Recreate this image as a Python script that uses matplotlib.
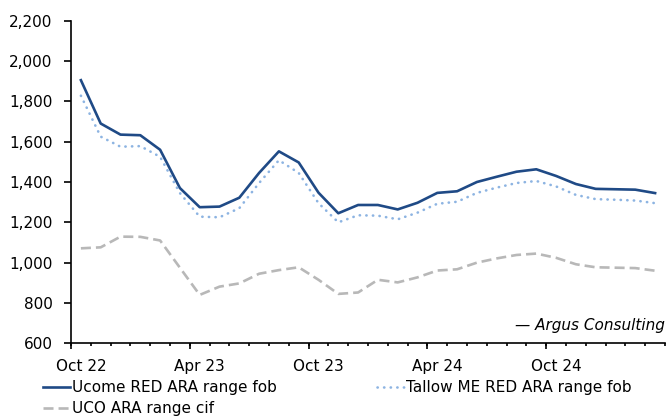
import matplotlib
matplotlib.use("Agg")
import matplotlib.pyplot as plt
from matplotlib.lines import Line2D

# ---- data ----
months = ["Oct 22", "Nov 22", "Dec 22", "Jan 23", "Feb 23", "Mar 23",
          "Apr 23", "May 23", "Jun 23", "Jul 23", "Aug 23", "Sep 23",
          "Oct 23", "Nov 23", "Dec 23", "Jan 24", "Feb 24", "Mar 24",
          "Apr 24", "May 24", "Jun 24", "Jul 24", "Aug 24", "Sep 24",
          "Oct 24", "Nov 24", "Dec 24", "Jan 25", "Feb 25", "Mar 25"]
ucome = [1905, 1690, 1635, 1632, 1560, 1370, 1275, 1278, 1322, 1445,
         1552, 1497, 1347, 1245, 1286, 1286, 1264, 1297, 1346, 1354,
         1400, 1426, 1451, 1463, 1430, 1390, 1366, 1364, 1362, 1345]
tallow = [1828, 1625, 1575, 1578, 1525, 1345, 1228, 1225, 1270, 1395,
          1508, 1445, 1295, 1200, 1235, 1233, 1215, 1248, 1292, 1302,
          1346, 1372, 1395, 1405, 1378, 1336, 1315, 1312, 1308, 1295]
uco = [1071, 1076, 1129, 1128, 1110, 975, 840, 881, 897, 945,
       963, 977, 915, 845, 852, 915, 902, 927, 961, 967,
       1000, 1021, 1038, 1045, 1024, 992, 977, 975, 973, 960]
tick_labels = ["Oct 22", "Apr 23", "Oct 23", "Apr 24", "Oct 24"]
y_ticks = [600, 800, 1000, 1200, 1400, 1600, 1800, 2000, 2200]

names = ["Ucome RED ARA range fob", "Tallow ME RED ARA range fob", "UCO ARA range cif"]
c_ucome = "#1F4A86"
c_tallow = "#8DB4E2"
c_uco = "#B8B8B8"

plt.rcParams['font.family'] = ['DejaVu Sans']
FS = 11

W, H = 666, 419
fig = plt.figure(figsize=(W / 100, H / 100), dpi=100)
left, right = 71, 665
top, bottom = 20.7, 343.3
ax = fig.add_axes([left / W, 1 - bottom / H, (right - left) / W, (bottom - top) / H])

dot_style = (0, (0.1, 2.4))
dash_style = (0, (3.8, 1.9))

x = list(range(len(months)))
ax.plot(x, ucome, color=c_ucome, lw=1.9, solid_joinstyle='round')
ax.plot(x, tallow, color=c_tallow, lw=1.9, linestyle=dot_style,
        dash_capstyle='round')
ax.plot(x, uco, color=c_uco, lw=1.9, linestyle=dash_style)

ax.set_xlim(-0.5, len(months) - 0.5)
ax.set_ylim(600, 2200)
ax.set_yticks(y_ticks)
ax.set_yticklabels([f"{v:,}" for v in y_ticks], fontsize=FS)
ax.tick_params(axis='y', length=4.8, width=1.2, pad=8.5, direction='out')

# category-centred labels, tick marks at category boundaries
label_pos = [months.index(t) for t in tick_labels]
ax.set_xticks(label_pos)
ax.set_xticklabels(tick_labels, fontsize=FS)
ax.tick_params(axis='x', which='major', length=0, pad=11)
ax.set_xticks([i - 0.5 for i in range(len(months) + 1)], minor=True)
ax.tick_params(axis='x', which='minor', length=2.5, width=1.2, direction='out')
sec = ax.secondary_xaxis('bottom')
sec.set_xticks([p - 0.5 for p in label_pos])
sec.tick_params(length=4.0, width=1.2, labelbottom=False)
sec.spines['bottom'].set_visible(False)

for s in ['top', 'right']:
    ax.spines[s].set_visible(False)
for s in ['left', 'bottom']:
    ax.spines[s].set_linewidth(1.2)

ax.text(1.0, 0.055, "\u2014 Argus Consulting", transform=ax.transAxes,
        ha='right', va='center', fontsize=FS, style='italic')

leg_kw = dict(frameon=False, fontsize=FS, handlelength=1.75, handletextpad=0.15,
              labelspacing=0.42, borderpad=0, borderaxespad=0)
h_ucome = Line2D([], [], color=c_ucome, lw=1.9)
h_tallow = Line2D([], [], color=c_tallow, lw=1.9, linestyle=dot_style, dash_capstyle='round')
h_uco = Line2D([], [], color=c_uco, lw=1.9, linestyle=dash_style)
fig.legend([h_ucome, h_uco], [names[0], names[2]], loc='upper left',
           bbox_to_anchor=(43 / W, 1 - 380 / H), **leg_kw)
fig.legend([h_tallow], [names[1]], loc='upper left',
           bbox_to_anchor=(377 / W, 1 - 380 / H), **leg_kw)

fig.savefig("out.png", dpi=100)
